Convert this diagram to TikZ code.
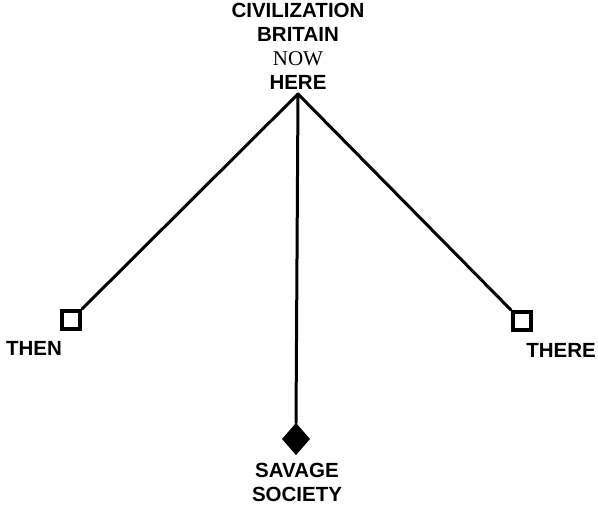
\documentclass[tikz,border=0pt]{standalone}
\usepackage{fontspec}
\setmainfont{Liberation Serif}
\setsansfont{Liberation Sans}
\usepackage{tikz}
\usetikzlibrary{
    shapes.geometric,
    positioning
}
\tikzset{
    % Base style for all labels
    label base/.style={
        font=\sffamily\bfseries\fontsize{20.5}{24}\selectfont,
        align=center,
        inner sep=0pt,
    },
    % Open square ends - then / there
    open end/.style={
        rectangle,
        draw=black,
        line width=4pt,
        fill=white,
        minimum size=18pt,
        inner sep=0pt,
    },
    % Filled diamond end - savage society
    full end/.style={
        diamond,
        draw=black,
        fill=black,
        line width=1pt,
        minimum width=27pt,
        minimum height=31pt,
        inner sep=0pt,
    },
    % Branch lines
    branch/.style={
        line width=3pt,
        draw=black,
        line cap=round,
    },
}

\begin{document}
\begin{tikzpicture}[x=1pt, y=-1pt]
    \useasboundingbox (0,0) rectangle (598,505);

    \coordinate (apex) at (298,94);
    \node (now) [label base, anchor=south] at (298,90)
        {CIVILIZATION\\BRITAIN\\{\rmfamily\mdseries\fontsize{21}{24}\selectfont NOW}\\HERE};

    \node (then) [open end] at (71,320) {};
    \node (there) [open end] at (522,321) {};
    \node (savage) [full end] at (296,439) {};

    \node (thenlabel) [label base, anchor=base] at (34,356) {THEN};
    \node (therelabel) [label base, anchor=base] at (561,358) {THERE};
    \node (savagelabel) [label base, anchor=north] at (297,463) {SAVAGE\\SOCIETY};

    \draw [branch] (apex) -- (then.north east);
    \draw [branch] (apex) -- (there.north west);
    \draw [branch] (apex) -- (savage.north);
\end{tikzpicture}
\end{document}
